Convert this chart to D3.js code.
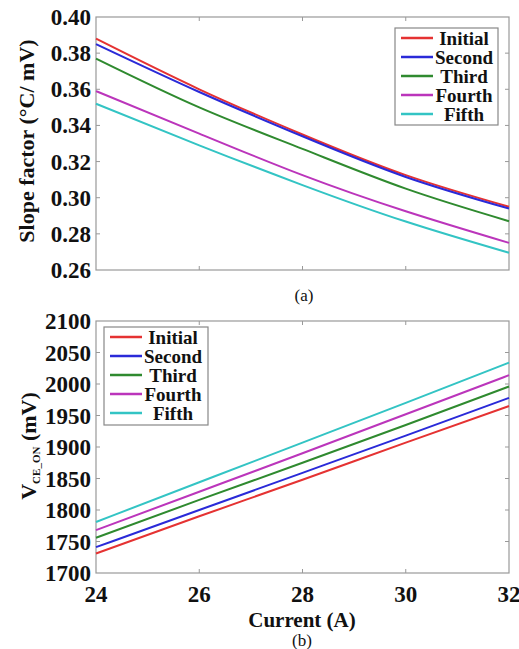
<!DOCTYPE html>
<html>
<head>
<meta charset="utf-8">
<script src="https://cdn.jsdelivr.net/npm/d3@7"></script>
<style>
  body { margin: 0; background: #fff; }
  text { font-family: "Liberation Serif", "Times New Roman", serif; }
  .tick-label { font-weight: bold; font-size: 23px; fill: #111; }
  .axis-title { font-weight: bold; font-size: 22px; fill: #111; }
  .legend-text { font-weight: bold; font-size: 19px; fill: #111; }
  .caption { font-size: 17px; fill: #111; }
</style>
</head>
<body>
<svg id="chart" width="519" height="649"></svg>
<script>
// x values (Current, A)
var current = [24, 26, 28, 30, 32];
var seriesNames = ["Initial", "Second", "Third", "Fourth", "Fifth"];

// panel (a): slope factor
var slopeInitial = [0.388, 0.360, 0.335, 0.3125, 0.295];
var slopeSecond  = [0.385, 0.3585, 0.334, 0.3115, 0.294];
var slopeThird   = [0.377, 0.350, 0.327, 0.305, 0.287];
var slopeFourth  = [0.359, 0.3355, 0.3125, 0.2925, 0.275];
var slopeFifth   = [0.352, 0.329, 0.307, 0.2868, 0.2695];
var slopeTicks = [0.26, 0.28, 0.30, 0.32, 0.34, 0.36, 0.38, 0.40];

// panel (b): V_CE_ON
var vceInitial = [1731, 1790, 1848, 1907, 1965];
var vceSecond  = [1741, 1800, 1859, 1918, 1978];
var vceThird   = [1756, 1816, 1875, 1935, 1996];
var vceFourth  = [1768, 1829, 1890, 1952, 2014];
var vceFifth   = [1781, 1844, 1907, 1970, 2034];
var vceTicks = [1700, 1750, 1800, 1850, 1900, 1950, 2000, 2050, 2100];

var xTicks = [24, 26, 28, 30, 32];
var colors = ["#e53232", "#2a2ad8", "#2f8a2f", "#bb35bb", "#33c4c4"];

var svg = d3.select("#chart");
var left = 96, right = 509;

var x = d3.scaleLinear().domain([24, 32]).range([left, right]);

function panel(opts) {
	var y = d3.scaleLinear().domain(opts.domain).range([opts.bottom, opts.top]);
	var g = svg.append("g");

	// tick marks (inward) on all four sides
	var tickLen = 4;
	xTicks.slice(1, -1).forEach(function(t){
		g.append("line").attr("x1", x(t)).attr("x2", x(t))
			.attr("y1", opts.bottom).attr("y2", opts.bottom - tickLen)
			.attr("stroke", "#999");
		g.append("line").attr("x1", x(t)).attr("x2", x(t))
			.attr("y1", opts.top).attr("y2", opts.top + tickLen)
			.attr("stroke", "#999");
	});
	opts.yTicks.slice(1, -1).forEach(function(t){
		g.append("line").attr("x1", right).attr("x2", right - tickLen)
			.attr("y1", y(t)).attr("y2", y(t))
			.attr("stroke", "#999");
		g.append("line").attr("x1", left).attr("x2", left + tickLen)
			.attr("y1", y(t)).attr("y2", y(t))
			.attr("stroke", "#999");
	});

	g.append("rect")
		.attr("x", left).attr("y", opts.top)
		.attr("width", right - left).attr("height", opts.bottom - opts.top)
		.attr("fill", "none").attr("stroke", "#999").attr("stroke-width", 1.2);

	g.selectAll(".ylab")
		.data(opts.yTicks)
		.enter().append("text")
		.attr("class", "tick-label")
		.attr("x", left - 5)
		.attr("y", function(d){ return y(d); })
		.attr("dy", "0.35em")
		.attr("text-anchor", "end")
		.text(opts.yFormat);

	var line = d3.line()
		.x(function(d, i){ return x(current[i]); })
		.y(function(d){ return y(d); })
		.curve(d3.curveNatural);

	g.selectAll(".series")
		.data(opts.series)
		.enter().append("path")
		.attr("class", "series")
		.attr("d", line)
		.attr("fill", "none")
		.attr("stroke", function(d, i){ return colors[i]; })
		.attr("stroke-width", 2);

	// legend
	var lg = opts.legend;
	var leg = g.append("g").attr("transform", "translate(" + lg.x + "," + lg.y + ")");
	leg.append("rect")
		.attr("width", lg.w).attr("height", lg.h)
		.attr("fill", "#fff").attr("stroke", "#888").attr("stroke-width", 1.2);
	seriesNames.forEach(function(name, i){
		var ry = 10 + i * 19;
		leg.append("line")
			.attr("x1", 6).attr("x2", 38)
			.attr("y1", ry).attr("y2", ry)
			.attr("stroke", colors[i]).attr("stroke-width", 2.5);
		leg.append("text")
			.attr("class", "legend-text")
			.attr("x", 69).attr("y", ry)
			.attr("dy", "0.35em")
			.attr("text-anchor", "middle")
			.text(name);
	});
	return g;
}

panel({
	top: 17, bottom: 270,
	domain: [0.26, 0.40],
	yTicks: slopeTicks,
	yFormat: d3.format(".2f"),
	series: [slopeInitial, slopeSecond, slopeThird, slopeFourth, slopeFifth],
	legend: { x: 395, y: 28, w: 103, h: 97 }
});

panel({
	top: 321, bottom: 573,
	domain: [1700, 2100],
	yTicks: vceTicks,
	yFormat: d3.format("d"),
	series: [vceInitial, vceSecond, vceThird, vceFourth, vceFifth],
	legend: { x: 104, y: 327, w: 104, h: 98 }
});

// x tick labels, bottom panel only
svg.selectAll(".xlab")
	.data(xTicks)
	.enter().append("text")
	.attr("class", "tick-label")
	.attr("x", function(d){ return x(d); })
	.attr("y", 602)
	.attr("text-anchor", "middle")
	.text(function(d){ return d; });

svg.append("text")
	.attr("class", "axis-title")
	.attr("x", 302).attr("y", 627)
	.attr("text-anchor", "middle")
	.style("font-size", "21px")
	.text("Current (A)");

svg.append("text")
	.attr("class", "axis-title")
	.attr("transform", "translate(34,141) rotate(-90)")
	.attr("text-anchor", "middle")
	.text("Slope factor (°C/ mV)");

var vt = svg.append("text")
	.attr("class", "axis-title")
	.attr("transform", "translate(36,446) rotate(-90)")
	.attr("text-anchor", "middle")
	.style("font-size", "22px");
vt.append("tspan").text("V");
vt.append("tspan").attr("dy", 4).style("font-size", "11px").text("CE_ON");
vt.append("tspan").attr("dy", -4).text(" (mV)");

svg.append("text").attr("class", "caption")
	.attr("x", 304).attr("y", 301).attr("text-anchor", "middle").text("(a)");
svg.append("text").attr("class", "caption")
	.attr("x", 302).attr("y", 646).attr("text-anchor", "middle").text("(b)");
</script>
</body>
</html>
